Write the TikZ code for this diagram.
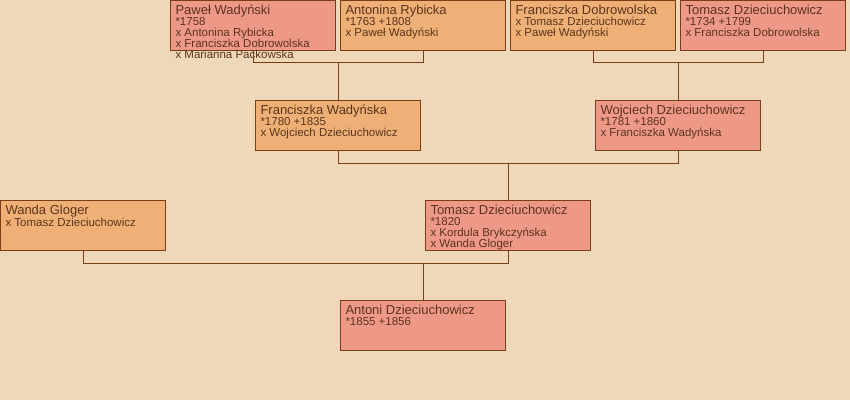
\documentclass[tikz,border=0pt]{standalone}
\usepackage{fontspec}
\setmainfont{Liberation Sans}
\definecolor{tlo}{RGB}{238,216,185}
\definecolor{kobieta}{RGB}{238,176,118}
\definecolor{mezczyzna}{RGB}{238,153,136}
\definecolor{braz}{RGB}{122,62,22}
\definecolor{napis}{RGB}{92,52,28}
\newcommand{\osoba}[2]{\parbox[t][50pt][t]{155pt}{\raggedright
  {\fontsize{13}{13}\selectfont\rule{0pt}{13.5pt}#1}\\
  \fontsize{11.5}{11}\selectfont #2}}
\begin{document}
\begin{tikzpicture}[x=1pt,y=-1pt,
    os/.style={draw=braz,line width=1pt,anchor=north west,inner xsep=5pt,inner ysep=0pt,text=napis},
    on/.style={os,fill=kobieta},
    on2/.style={os,fill=mezczyzna},
    conn/.style={draw=braz,line width=1pt}]
  \fill[tlo] (0,0) rectangle (850,400);
  \useasboundingbox (0,0) rectangle (850,400);
  % pokolenie 1
  \node[on2] (pawel) at (170,0) {\osoba{Paweł Wadyński}{*1758\\x Antonina Rybicka\\x Franciszka Dobrowolska\\x Marianna Packowska}};
  \node[on] (antonina) at (340,0) {\osoba{Antonina Rybicka}{*1763 +1808\\x Paweł Wadyński}};
  \node[on] (franciszkaD) at (510,0) {\osoba{Franciszka Dobrowolska}{x Tomasz Dzieciuchowicz\\x Paweł Wadyński}};
  \node[on2] (tomaszS) at (680,0) {\osoba{Tomasz Dzieciuchowicz}{*1734 +1799\\x Franciszka Dobrowolska}};
  % pokolenie 2
  \node[on] (franciszkaW) at (255,100) {\osoba{Franciszka Wadyńska}{*1780 +1835\\x Wojciech Dzieciuchowicz}};
  \node[on2] (wojciech) at (595,100) {\osoba{Wojciech Dzieciuchowicz}{*1781 +1860\\x Franciszka Wadyńska}};
  % pokolenie 3
  \node[on] (wanda) at (0,200) {\osoba{Wanda Gloger}{x Tomasz Dzieciuchowicz}};
  \node[on2] (tomasz) at (425,200) {\osoba{Tomasz Dzieciuchowicz}{*1820\\x Kordula Brykczyńska\\x Wanda Gloger}};
  % pokolenie 4
  \node[on2] (antoni) at (340,300) {\osoba{Antoni Dzieciuchowicz}{*1855 +1856}};
  % linie
  \draw[conn] (pawel.south) -- ++(0,11) coordinate (pa) -| (antonina.south);
  \draw[conn] (franciszkaW.north) -- (franciszkaW.north |- pa);
  \draw[conn] (franciszkaD.south) -- ++(0,11) coordinate (ft) -| (tomaszS.south);
  \draw[conn] (wojciech.north) -- (wojciech.north |- ft);
  \draw[conn] (franciszkaW.south) -- ++(0,12) coordinate (fw) -| (wojciech.south);
  \draw[conn] (tomasz.north) -- (tomasz.north |- fw);
  \draw[conn] (wanda.south) -- ++(0,12) coordinate (wt) -| (tomasz.south);
  \draw[conn] (antoni.north) -- (antoni.north |- wt);
\end{tikzpicture}
\end{document}
